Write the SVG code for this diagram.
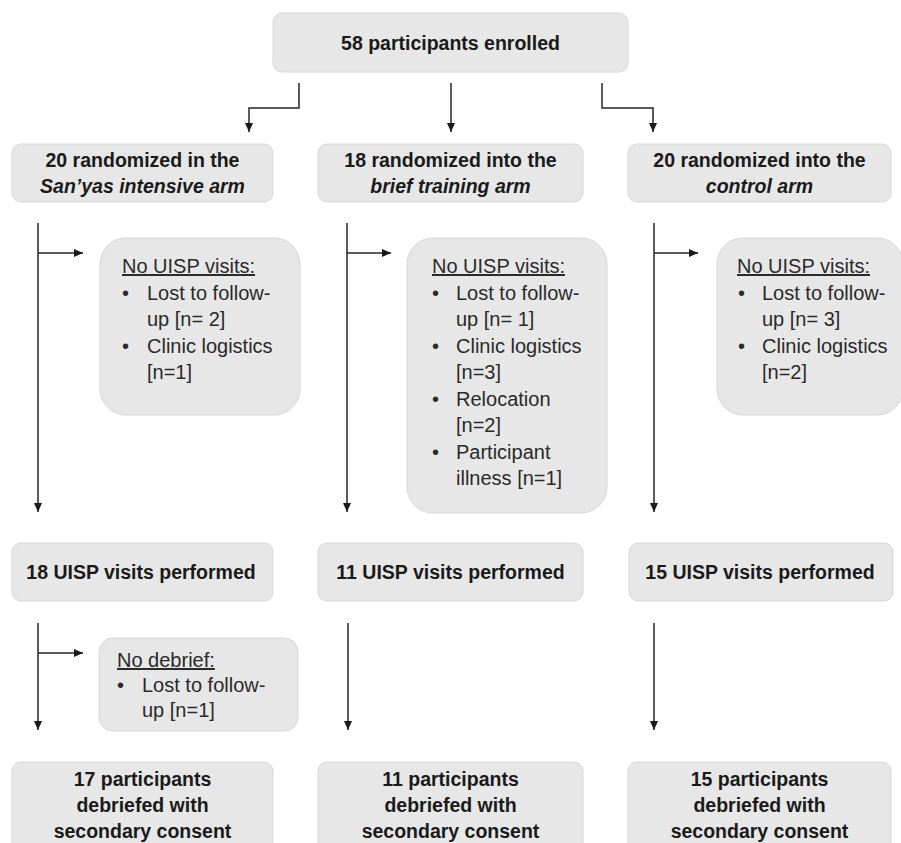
<svg xmlns="http://www.w3.org/2000/svg" width="901" height="843" viewBox="0 0 901 843">
<style>
.box{fill:#e7e7e7;stroke:#d8d8d8;stroke-width:1}
.b{font-family:"Liberation Sans",Arial,sans-serif;font-weight:bold;font-size:19.5px;fill:#1a1a1a;text-anchor:middle}
.bi{font-style:italic}
.t{font-family:"Liberation Sans",Arial,sans-serif;font-size:20px;fill:#2a2a2a}
.u{text-decoration:underline}
.con{fill:none;stroke:#262626;stroke-width:1.5}
</style>
<defs>
<marker id="ah" markerUnits="userSpaceOnUse" markerWidth="10" markerHeight="10" refX="9" refY="4" orient="auto">
<path d="M0,0 L9,4 L0,8 z" fill="#1a1a1a"/>
</marker>
</defs>
<rect width="901" height="843" fill="#ffffff"/>

<g id="enrolled">
<rect class="box" x="273" y="13" width="355" height="59" rx="9"/>
<text class="b" x="450.5" y="50">58 participants enrolled</text>
</g>

<g id="arm-intensive">
<rect class="box" x="12" y="144" width="261" height="58" rx="9"/>
<text class="b" x="142.5" y="167">20 randomized in the</text>
<text class="b bi" x="142.5" y="193">San’yas  intensive arm</text>
</g>
<g id="arm-brief">
<rect class="box" x="318" y="144" width="265" height="58" rx="9"/>
<text class="b" x="450.5" y="167">18 randomized into the</text>
<text class="b bi" x="450.5" y="193">brief training arm</text>
</g>
<g id="arm-control">
<rect class="box" x="628" y="144" width="263" height="58" rx="9"/>
<text class="b" x="759.5" y="167">20 randomized into the</text>
<text class="b bi" x="759.5" y="193">control arm</text>
</g>

<g id="excl-intensive">
<rect class="box" x="100" y="238" width="200" height="177" rx="26"/>
<text class="t u" x="122" y="273">No UISP visits:</text>
<text class="t" x="122" y="300">•</text>
<text class="t" x="147" y="300">Lost to follow-</text>
<text class="t" x="147" y="326">up [n= 2]</text>
<text class="t" x="122" y="353">•</text>
<text class="t" x="147" y="353">Clinic logistics</text>
<text class="t" x="147" y="379">[n=1]</text>
</g>
<g id="excl-brief">
<rect class="box" x="407" y="238" width="200" height="275" rx="26"/>
<text class="t u" x="432" y="273">No UISP visits:</text>
<text class="t" x="432" y="300">•</text>
<text class="t" x="456" y="300">Lost to follow-</text>
<text class="t" x="456" y="326">up [n= 1]</text>
<text class="t" x="432" y="353">•</text>
<text class="t" x="456" y="353">Clinic logistics</text>
<text class="t" x="456" y="379">[n=3]</text>
<text class="t" x="432" y="406">•</text>
<text class="t" x="456" y="406">Relocation</text>
<text class="t" x="456" y="432">[n=2]</text>
<text class="t" x="432" y="459">•</text>
<text class="t" x="456" y="459">Participant</text>
<text class="t" x="456" y="485">illness [n=1]</text>
</g>
<g id="excl-control">
<rect class="box" x="717" y="238" width="186" height="177" rx="26"/>
<text class="t u" x="737" y="273">No UISP visits:</text>
<text class="t" x="738" y="300">•</text>
<text class="t" x="762" y="300">Lost to follow-</text>
<text class="t" x="762" y="326">up [n= 3]</text>
<text class="t" x="738" y="353">•</text>
<text class="t" x="762" y="353">Clinic logistics</text>
<text class="t" x="762" y="379">[n=2]</text>
</g>

<g id="visits-intensive">
<rect class="box" x="12" y="543" width="261" height="58" rx="9"/>
<text class="b" x="141" y="579">18 UISP visits performed</text>
</g>
<g id="visits-brief">
<rect class="box" x="318" y="543" width="265" height="58" rx="9"/>
<text class="b" x="450.5" y="579">11 UISP visits performed</text>
</g>
<g id="visits-control">
<rect class="box" x="629" y="543" width="264" height="58" rx="9"/>
<text class="b" x="760" y="579">15 UISP visits performed</text>
</g>

<g id="nodebrief-intensive">
<rect class="box" x="99" y="638" width="199" height="93" rx="14"/>
<text class="t u" x="117" y="667">No debrief:</text>
<text class="t" x="117" y="692">•</text>
<text class="t" x="142" y="692">Lost to follow-</text>
<text class="t" x="142" y="717">up [n=1]</text>
</g>

<g id="debriefed-intensive">
<rect class="box" x="12" y="762" width="261" height="100" rx="9"/>
<text class="b" x="142.5" y="786">17 participants</text>
<text class="b" x="142.5" y="812">debriefed with</text>
<text class="b" x="142.5" y="838">secondary consent</text>
</g>
<g id="debriefed-brief">
<rect class="box" x="318" y="762" width="265" height="100" rx="9"/>
<text class="b" x="450.5" y="786">11 participants</text>
<text class="b" x="450.5" y="812">debriefed with</text>
<text class="b" x="450.5" y="838">secondary consent</text>
</g>
<g id="debriefed-control">
<rect class="box" x="628" y="762" width="263" height="100" rx="9"/>
<text class="b" x="759.5" y="786">15 participants</text>
<text class="b" x="759.5" y="812">debriefed with</text>
<text class="b" x="759.5" y="838">secondary consent</text>
</g>

<g id="connectors">
<polyline class="con" points="299,83 299,108 249,108 249,132" marker-end="url(#ah)"/>
<line class="con" x1="451" y1="83" x2="451" y2="132" marker-end="url(#ah)"/>
<polyline class="con" points="602,83 602,108 653,108 653,132" marker-end="url(#ah)"/>

<line class="con" x1="38" y1="223" x2="38" y2="512" marker-end="url(#ah)"/>
<line class="con" x1="38" y1="253" x2="83" y2="253" marker-end="url(#ah)"/>
<line class="con" x1="347" y1="223" x2="347" y2="512" marker-end="url(#ah)"/>
<line class="con" x1="347" y1="253" x2="391" y2="253" marker-end="url(#ah)"/>
<line class="con" x1="654" y1="223" x2="654" y2="512" marker-end="url(#ah)"/>
<line class="con" x1="654" y1="253" x2="698" y2="253" marker-end="url(#ah)"/>

<line class="con" x1="38" y1="623" x2="38" y2="730" marker-end="url(#ah)"/>
<line class="con" x1="38" y1="653" x2="83" y2="653" marker-end="url(#ah)"/>
<line class="con" x1="348" y1="623" x2="348" y2="730" marker-end="url(#ah)"/>
<line class="con" x1="654" y1="623" x2="654" y2="730" marker-end="url(#ah)"/>
</g>
</svg>
